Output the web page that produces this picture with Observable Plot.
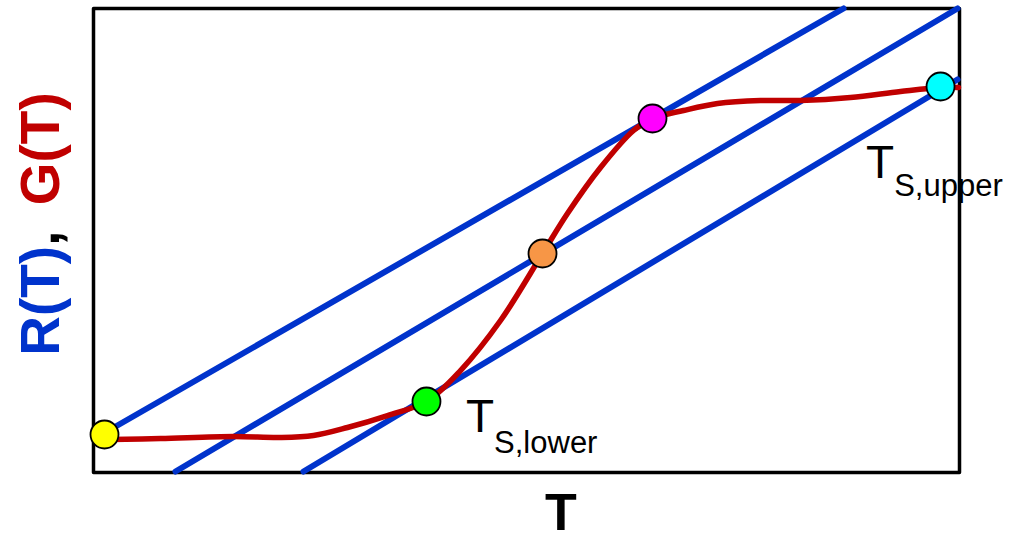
<!DOCTYPE html>
<html>
<head>
<meta charset="utf-8">
<script src="https://cdn.jsdelivr.net/npm/d3@7"></script>
<script src="https://cdn.jsdelivr.net/npm/@observablehq/plot@0.6"></script>
<style>
  html, body { margin: 0; padding: 0; background: white; }
  #chart { width: 1009px; height: 533px; }
</style>
</head>
<body>
<div id="chart"></div>
<script>
// ---- Data (T in 0..100, R/G in 0..100 arbitrary units) ----
// Three parallel heat-removal lines R(T)
const rLineNames = ["R1", "R2", "R3"];
const rLineStartT = [1.15, 9.47, 24.25];
const rLineStartR = [8.41, 0.22, 0.22];
const rLineEndT = [86.61, 99.77, 99.77];
const rLineEndR = [100, 100, 84.7];

// Heat generation curve G(T)
const gT = [1.96, 7.74, 16.17, 21.59, 25.40, 29.33, 33.95, 38.45, 42.38, 47.00, 51.85, 54.73, 58.55, 62.36, 64.55, 68.13, 72.06, 77.02, 81.64, 87.41, 93.19, 97.81, 99.88];
const gG = [7.11, 7.33, 7.76, 7.54, 7.97, 9.70, 12.28, 15.30, 21.98, 32.76, 47.20, 55.82, 65.73, 73.71, 76.29, 78.02, 79.53, 80.17, 80.17, 80.82, 82.11, 82.97, 82.97];

// Intersection (steady-state) points
const ptNames = ["start", "lower", "middle", "upper-tangent", "upper"];
const ptT = [1.27, 38.45, 51.85, 64.55, 97.81];
const ptV = [8.19, 15.30, 47.20, 76.29, 83.19];

// Labels
const xLabel = "T";
const yLabelParts = ["R(T)", ", ", "G(T)"];
const lowerLabel = ["T", "S,lower"];
const upperLabel = ["T", "S,upper"];

// ---- Styles ----
const blue = "#0033cc";
const red = "#c00000";
const dotColors = ["#ffff00", "#00ff00", "#f79646", "#ff00ff", "#00ffff"];
const font = "'Liberation Sans', Arial, Helvetica, sans-serif";

// ---- Build tables ----
const rRows = [];
rLineNames.forEach((n, i) => {
  rRows.push({line: n, T: rLineStartT[i], R: rLineStartR[i]});
  rRows.push({line: n, T: rLineEndT[i], R: rLineEndR[i]});
});
const gRows = gT.map((t, i) => ({T: t, G: gG[i]}));
const pts = ptNames.map((n, i) => ({name: n, T: ptT[i], V: ptV[i]}));

const chart = Plot.plot({
  width: 1009,
  height: 533,
  marginLeft: 93,
  marginRight: 50,
  marginTop: 8,
  marginBottom: 61,
  x: {domain: [0, 100], axis: null},
  y: {domain: [0, 100], axis: null},
  color: {domain: ptNames, range: dotColors},
  style: {background: "white", fontFamily: font},
  marks: [
    Plot.frame({stroke: "black", strokeWidth: 3.5, strokeLinejoin: "round"}),
    Plot.line(rRows, {x: "T", y: "R", z: "line", stroke: blue, strokeWidth: 6}),
    Plot.line(gRows, {x: "T", y: "G", curve: "catmull-rom", stroke: red, strokeWidth: 5.5}),
    Plot.dot(pts, {x: "T", y: "V", r: 14, fill: "name", stroke: "black", strokeWidth: 1.8})
  ]
});

const svg = d3.select(chart);
const sx = chart.scale("x");
const sy = chart.scale("y");

// Subscripted labels next to points
function subLabel(parts, pIdx, dx, dy, subDy) {
  const t = svg.append("text")
    .attr("x", sx.apply(ptT[pIdx]) + dx)
    .attr("y", sy.apply(ptV[pIdx]) + dy)
    .style("font-family", font)
    .style("text-anchor", "start")
    .attr("fill", "black");
  t.append("tspan").style("font-size", "46px").text(parts[0]);
  t.append("tspan").style("font-size", "31px").attr("dy", subDy).text(parts[1]);
}
subLabel(lowerLabel, 1, 40, 31, 21);
subLabel(upperLabel, 4, -74, 92, 18);

// Axis labels
const frameCx = (sx.apply(0) + sx.apply(100)) / 2;
svg.append("text")
  .attr("x", frameCx + 35)
  .attr("y", 530)
  .style("text-anchor", "middle")
  .style("font-family", font)
  .style("font-weight", "bold")
  .style("font-size", "52px")
  .attr("fill", "black")
  .text(xLabel);

const yl = svg.append("text")
  .attr("transform", "translate(59,224) rotate(-90)")
  .style("text-anchor", "middle")
  .style("font-family", font)
  .style("font-weight", "bold")
  .style("font-size", "55px");
yl.append("tspan").attr("fill", blue).text(yLabelParts[0]);
yl.append("tspan").attr("fill", "black").attr("xml:space", "preserve").text(yLabelParts[1]);
yl.append("tspan").attr("fill", red).attr("dx", 10).text(yLabelParts[2]);

document.getElementById("chart").appendChild(chart);
</script>
</body>
</html>
